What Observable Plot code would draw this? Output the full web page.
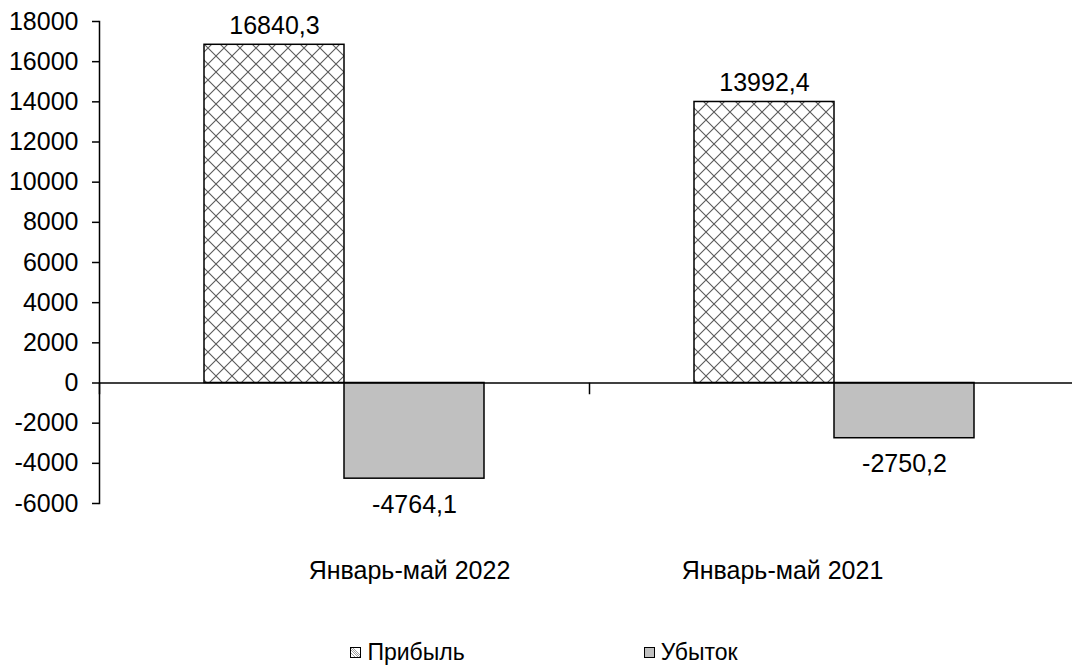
<!DOCTYPE html>
<html>
<head>
<meta charset="utf-8">
<script src="https://cdn.jsdelivr.net/npm/d3@7"></script>
<script src="https://cdn.jsdelivr.net/npm/@observablehq/plot@0.6"></script>
<style>
  html, body { margin: 0; padding: 0; background: #fff; }
  body { width: 1072px; height: 665px; overflow: hidden; font-family: "Liberation Sans", Arial, sans-serif; }
  #legend { height: 35px; display: flex; justify-content: center; align-items: center; gap: 179px; font-size: 23px; color: #000; padding-left: 16px; padding-top: 9px; box-sizing: border-box; }
  .item { display: flex; align-items: center; }
  .sw { width: 11px; height: 11px; border: 1px solid #000; margin-right: 6px; box-sizing: border-box; }
</style>
</head>
<body>
<div id="chart"></div>
<div id="legend"></div>
<script>
const categories = ["Январь-май 2022", "Январь-май 2021"];
const seriesNames = ["Прибыль", "Убыток"];
const profit = [16840.3, 13992.4];
const loss = [-4764.1, -2750.2];
const yTicks = [-6000, -4000, -2000, 0, 2000, 4000, 6000, 8000, 10000, 12000, 14000, 16000, 18000];

const rows = [];
categories.forEach((c, i) => {
  rows.push({cat: c, series: seriesNames[0], value: profit[i]});
  rows.push({cat: c, series: seriesNames[1], value: loss[i]});
});
const fmt = v => String(v).replace(".", ",");

const font = "'Liberation Sans', Arial, sans-serif";
const fs = 25;

const chart = Plot.plot({
  width: 1072,
  height: 630,
  marginLeft: 99,
  marginRight: -7,
  marginTop: 21,
  marginBottom: 127,
  style: {fontFamily: font, fontSize: fs + "px", color: "#000", background: "#fff"},
  fx: {domain: categories, padding: 0, axis: null},
  x: {domain: seriesNames, paddingInner: 0, paddingOuter: 0.7376, axis: null},
  y: {domain: [-6000, 18000]},
  marks: [
    Plot.barY(rows.filter(d => d.series === seriesNames[0]), {fx: "cat", x: "series", y: "value", fill: "url(#hatch)", stroke: "#000", strokeWidth: 1.5}),
    Plot.barY(rows.filter(d => d.series === seriesNames[1]), {fx: "cat", x: "series", y: "value", fill: "#c0c0c0", stroke: "#000", strokeWidth: 1.5}),
    Plot.ruleY([0], {stroke: "#000", strokeWidth: 1.5}),
    Plot.frame({anchor: "left", insetTop: 362, insetBottom: 110, stroke: "#000", strokeWidth: 1.5}),
    Plot.frame({anchor: "left", facetAnchor: "left", stroke: "#000", strokeWidth: 1.5}),
    Plot.axisY({ticks: yTicks, tickSize: 7, tickPadding: 14, tickFormat: d => String(d), fontSize: fs, stroke: "#000", strokeWidth: 1.5, fill: "#000", label: null}),
    Plot.text(rows.filter(d => d.value > 0), {fx: "cat", x: "series", y: "value", text: d => fmt(d.value), dy: -19, fontSize: fs, fill: "#000"}),
    Plot.text(rows.filter(d => d.value < 0), {fx: "cat", x: "series", y: "value", text: d => fmt(d.value), dy: 26, fontSize: fs, fill: "#000"}),
    Plot.text([categories[0]], {fx: d => d, text: d => d, frameAnchor: "bottom", dy: 75, dx: 65, fontSize: fs, fill: "#000"}),
    Plot.text([categories[1]], {fx: d => d, text: d => d, frameAnchor: "bottom", dy: 75, dx: -52, fontSize: fs, fill: "#000"})
  ]
});

const ns = "http://www.w3.org/2000/svg";
const defs = document.createElementNS(ns, "defs");
defs.innerHTML = `<pattern id="hatch" patternUnits="userSpaceOnUse" width="16" height="16">
  <rect width="16" height="16" fill="#fff"/>
  <path d="M0,0L16,16M16,0L0,16M-1,15L1,17M15,-1L17,1M-1,1L1,-1M15,17L17,15" stroke="#5a5a5a" stroke-width="1.1"/>
</pattern>`;
chart.insertBefore(defs, chart.firstChild);
document.getElementById("chart").appendChild(chart);

const legend = document.getElementById("legend");
seriesNames.forEach((s, i) => {
  const it = document.createElement("div");
  it.className = "item";
  const sw = document.createElement("div");
  sw.className = "sw";
  if (i === 0) {
    sw.innerHTML = `<svg width="9" height="9" style="display:block"><rect width="9" height="9" fill="#fff"/><path d="M0,0L9,9M2,0L9,7M0,2L7,9M0,5L4,9" stroke="#888" stroke-width="0.8"/></svg>`;
  } else {
    sw.style.background = "#c0c0c0";
  }
  const t = document.createElement("span");
  t.textContent = s;
  it.appendChild(sw);
  it.appendChild(t);
  legend.appendChild(it);
});
</script>
</body>
</html>
